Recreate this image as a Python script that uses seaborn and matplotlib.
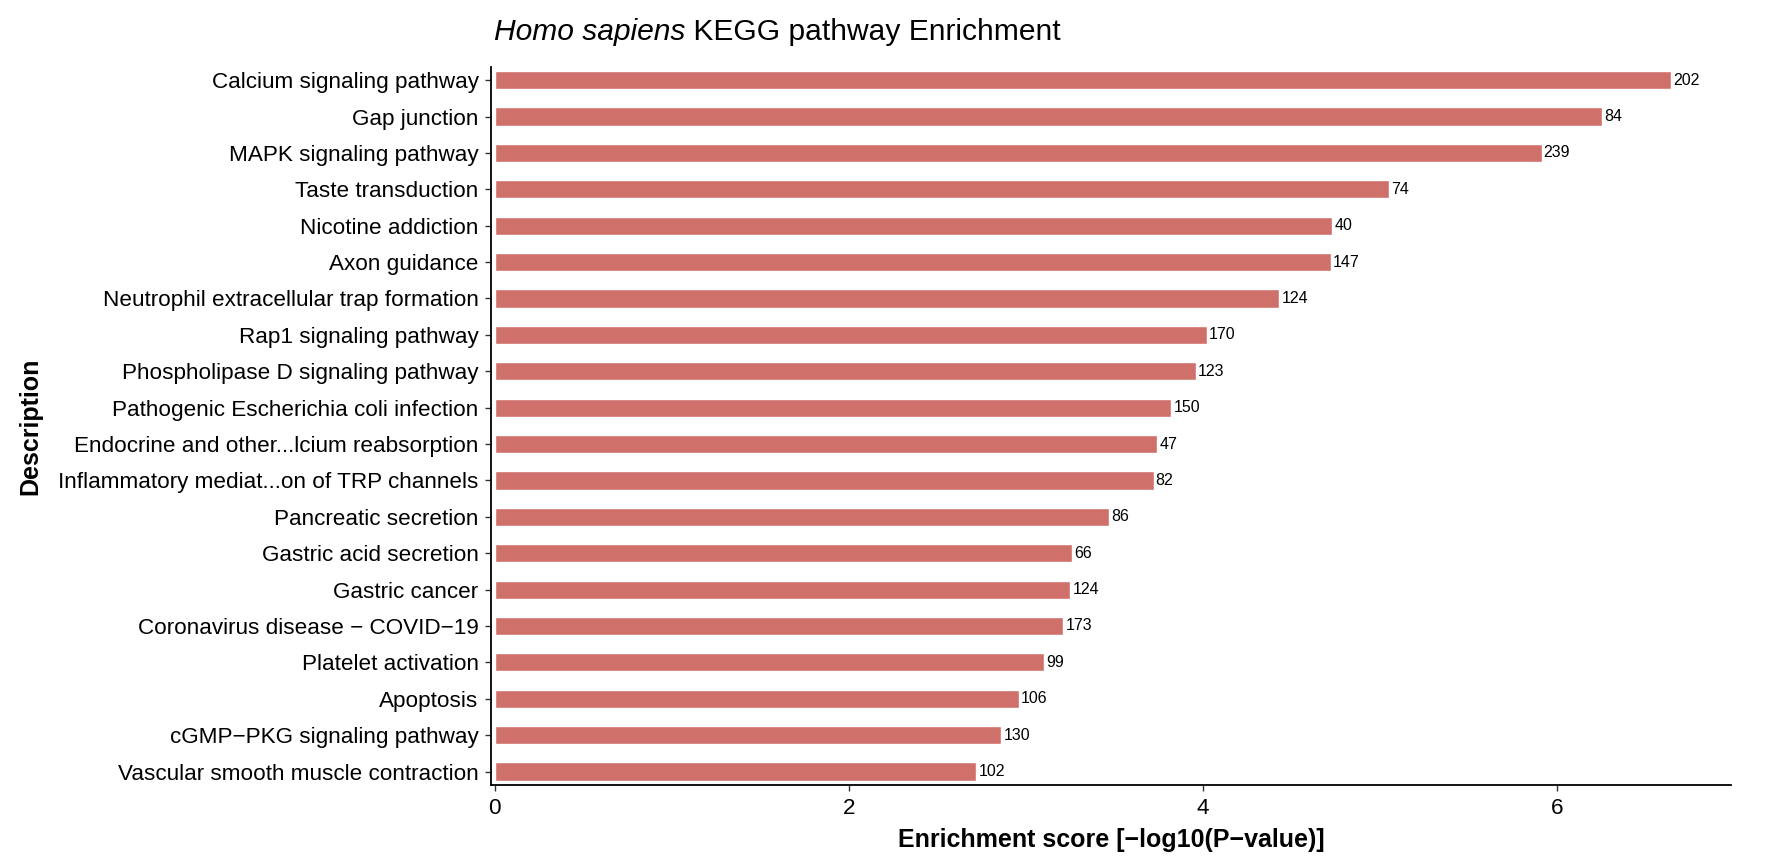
import matplotlib
matplotlib.use("Agg")
import matplotlib.pyplot as plt
import seaborn as sns
import pandas as pd

# KEGG enrichment results, top to bottom
descriptions = [
    "Calcium signaling pathway",
    "Gap junction",
    "MAPK signaling pathway",
    "Taste transduction",
    "Nicotine addiction",
    "Axon guidance",
    "Neutrophil extracellular trap formation",
    "Rap1 signaling pathway",
    "Phospholipase D signaling pathway",
    "Pathogenic Escherichia coli infection",
    "Endocrine and other...lcium reabsorption",
    "Inflammatory mediat...on of TRP channels",
    "Pancreatic secretion",
    "Gastric acid secretion",
    "Gastric cancer",
    "Coronavirus disease \u2212 COVID\u221219",
    "Platelet activation",
    "Apoptosis",
    "cGMP\u2212PKG signaling pathway",
    "Vascular smooth muscle contraction",
]
scores = [6.64, 6.25, 5.91, 5.05, 4.73, 4.72, 4.43, 4.02, 3.96, 3.82,
          3.74, 3.72, 3.47, 3.26, 3.25, 3.21, 3.10, 2.96, 2.86, 2.72]
counts = [202, 84, 239, 74, 40, 147, 124, 170, 123, 150,
          47, 82, 86, 66, 124, 173, 99, 106, 130, 102]
x_ticks = [0, 2, 4, 6]

df = pd.DataFrame({"Description": descriptions, "score": scores, "count": counts})

sns.set_style("white")
plt.rcParams["font.family"] = ["Liberation Sans", "DejaVu Sans"]
plt.rcParams["text.color"] = "black"
plt.rcParams["axes.labelcolor"] = "black"

fig = plt.figure(figsize=(17.74, 8.68), dpi=100)
ax = fig.add_axes([0.2768, 0.0956, 0.699, 0.8276])

sns.barplot(data=df, x="score", y="Description", color="#D0706A",
            saturation=1, width=0.5, orient="h", ax=ax)
ax.bar_label(ax.containers[0], labels=[str(c) for c in counts],
             padding=1.5, fontsize=11.5, color="black")

ax.set_xlim(-0.02, 6.98)
ax.set_ylim(len(descriptions) - 1 + 0.37, -0.37)
ax.set_xticks(x_ticks)
ax.set_xticklabels([str(t) for t in x_ticks])

sns.despine(ax=ax)
for side in ["left", "bottom"]:
    ax.spines[side].set_linewidth(1.3)
    ax.spines[side].set_color("black")
ax.tick_params(axis="both", which="major", length=4, width=1, color="#333333",
               labelsize=16.2, labelcolor="black", left=True, bottom=True)
ax.tick_params(axis="y", pad=5)
ax.tick_params(axis="x", pad=5)

ax.set_xlabel("Enrichment score [\u2212log10(P\u2212value)]", fontsize=18,
              fontweight="bold", labelpad=7)
ax.set_ylabel("Description", fontsize=18, fontweight="bold")
ax.yaxis.set_label_coords(-0.362, 0.5)

t1 = fig.text(494 / 1774, 1 - 40 / 868, "Homo sapiens", fontsize=21.6,
              style="italic", va="baseline", ha="left", color="black")
ax.annotate(" KEGG pathway Enrichment", xy=(1, 0), xycoords=t1,
            va="bottom", ha="left", fontsize=21.6, color="black")

fig.savefig("out.png", dpi=100)
